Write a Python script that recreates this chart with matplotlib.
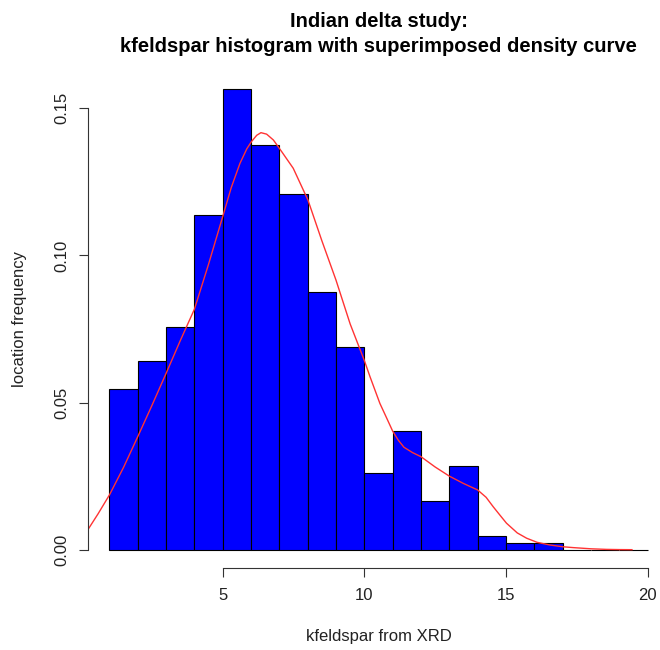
import matplotlib
matplotlib.use('Agg')
import matplotlib.pyplot as plt
import numpy as np

plt.rcParams['font.family'] = ['Liberation Sans', 'DejaVu Sans']

# histogram: bin edges and density heights (bins 17-20 are empty)
bin_edges = [1, 2, 3, 4, 5, 6, 7, 8, 9, 10, 11, 12, 13, 14, 15, 16, 17, 18, 19, 20]
bin_density = [0.0545, 0.064, 0.0758, 0.1137, 0.1564, 0.1375, 0.121, 0.0877, 0.0688,
               0.0262, 0.0402, 0.0167, 0.0285, 0.0048, 0.0023, 0.0023, 0.0, 0.0, 0.0]

# density curve
dens_x = [0.24, 0.6, 1.0, 1.5, 2.0, 2.5, 3.0, 3.5, 4.0, 4.5, 5.0, 5.3, 5.61, 5.85, 6.01, 6.2,
          6.35, 6.55, 6.79, 7.1, 7.49, 8.01, 8.5, 9.0, 9.5, 10.0, 10.2, 10.55, 10.8, 11.0,
          11.2, 11.4, 11.7, 12.0, 12.5, 13.0, 13.5, 14.0, 14.3, 14.55, 14.8, 15.02, 15.4, 15.73,
          16.1, 16.55, 17.0, 17.38, 18.0, 18.55, 19.0, 19.45]
dens_y = [0.0068, 0.0122, 0.0186, 0.028, 0.0384, 0.049, 0.0599, 0.071, 0.0817, 0.097, 0.1132,
          0.123, 0.1313, 0.1362, 0.1386, 0.1408, 0.1417, 0.1412, 0.1392, 0.135, 0.1296,
          0.1188, 0.105, 0.0916, 0.0767, 0.0643, 0.0588, 0.0497, 0.0445, 0.0403, 0.0372, 0.0348,
          0.033, 0.0316, 0.0281, 0.025, 0.0225, 0.0203, 0.0178, 0.0146, 0.0116, 0.009, 0.0057,
          0.0039, 0.0025, 0.0016, 0.001, 0.0007, 0.0003, 0.0001, 0.00003, 0.0]

fig = plt.figure(figsize=(6.6, 6.5), dpi=100)
ax = fig.add_axes([0.1332, 0.126, 0.8805, 0.7648])

lefts = np.array(bin_edges[:-1])
widths = np.diff(bin_edges)
ax.bar(lefts, bin_density, width=widths, align='edge', color='#0000ff',
       edgecolor='black', linewidth=0.8)
ax.plot(dens_x, dens_y, color='#ff3333', linewidth=1.0, clip_on=True)

ax.set_xlim(0.24, 20.76)
ax.set_ylim(-0.00626, 0.16266)

# R style axes
for s in ['top', 'right']:
    ax.spines[s].set_visible(False)
ax.spines['bottom'].set_bounds(5, 20)
ax.spines['left'].set_bounds(0, 0.15)
for s in ['bottom', 'left']:
    ax.spines[s].set_linewidth(0.8)
    ax.spines[s].set_color('#333333')
ax.set_xticks([5, 10, 15, 20])
ax.set_yticks([0.0, 0.05, 0.10, 0.15])
ax.set_yticklabels(['0.00', '0.05', '0.10', '0.15'], rotation=90, va='center')
ax.tick_params(axis='both', direction='out', length=6.5, width=0.8, color='#333333',
               labelsize=12, labelcolor='#222222')
ax.tick_params(axis='x', pad=8)
ax.tick_params(axis='y', pad=7)

cx = 378.5 / 660
fig.text(cx, 1 - 26.7 / 650, 'Indian delta study:', ha='center', va='baseline',
         fontsize=14.5, fontweight='bold')
fig.text(cx, 1 - 52 / 650, 'kfeldspar histogram with superimposed density curve',
         ha='center', va='baseline', fontsize=14.5, fontweight='bold')
fig.text(cx, 1 - 636 / 650, 'kfeldspar from XRD', ha='center', va='center',
         fontsize=12, color='#222222')
fig.text(20 / 660, 1 - 319.5 / 650, 'location frequency', ha='center', va='center',
         rotation=90, fontsize=12, color='#222222')

fig.savefig('out.png', dpi=100)
